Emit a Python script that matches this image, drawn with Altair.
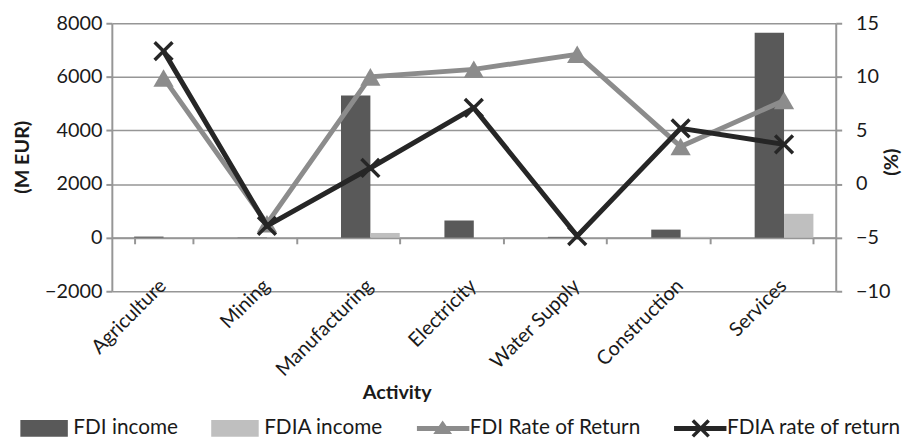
import altair as alt
import pandas as pd

categories = ["Agriculture", "Mining", "Manufacturing", "Electricity", "Water Supply", "Construction", "Services"]
fdi_income = [40, 10, 5300, 640, 30, 300, 7650]
fdia_income = [5, 5, 175, 15, 10, 30, 890]
fdi_rate = [9.9, -3.7, 10.0, 10.7, 12.1, 3.5, 7.8]
fdia_rate = [12.4, -3.9, 1.5, 7.1, -4.85, 5.2, 3.7]

series_names = ["FDI income", "FDIA income", "FDI Rate of Return", "FDIA rate of return"]
series_colors = ["#595959", "#bfbfbf", "#8c8c8c", "#262626"]

bar_df = pd.DataFrame({
    "category": categories * 2,
    "series": [series_names[0]] * 7 + [series_names[1]] * 7,
    "value": fdi_income + fdia_income,
})
rate_df = pd.DataFrame({
    "category": categories * 2,
    "series": [series_names[2]] * 7 + [series_names[3]] * 7,
    "rate": fdi_rate + fdia_rate,
})
legend_df = pd.DataFrame({"series": series_names})

FONT = "Lato"
GRAY = "#969696"

x_scale = alt.Scale(paddingInner=0.432, paddingOuter=0.216)

color_scale = alt.Scale(domain=series_names, range=series_colors)
shape_scale = alt.Scale(
    domain=series_names,
    range=[
        "M-1,-0.85H3.8V0.85H-1Z",
        "M-1,-0.85H3.8V0.85H-1Z",
        "M-1,-0.25H4.3V0.25H-1Z M1.6,-0.8L2.55,0.55L0.65,0.55Z",
        "M-1,-0.25H4.3V0.25H-1Z "
        "M1.024,-0.924L2.624,0.676L2.376,0.924L0.776,-0.676Z "
        "M2.376,-0.924L2.624,-0.676L1.024,0.924L0.776,0.676Z",
    ],
)

legend_def = alt.Legend(
    title=None,
    orient="none",
    direction="horizontal",
    legendX=-93,
    legendY=399,
    labelFont=FONT,
    labelFontSize=21,
    labelColor="#1a1a1a",
    labelLimit=400,
    symbolSize=400,
    symbolStrokeWidth=0,
    symbolOpacity=1,
    columnPadding=33,
    labelOffset=33,
)

x_axis = alt.Axis(title="Activity", orient="bottom", labelAngle=315, domain=True,
                  ticks=True, tickBand="extent", tickSize=6, grid=False, offset=-54,
                  labelPadding=32, labelOffset=-8, titleX=288, titleY=156, titleBaseline="middle")

bars = alt.Chart(bar_df).mark_bar().encode(
    x=alt.X("category:N", sort=categories, scale=x_scale, axis=x_axis),
    xOffset=alt.XOffset("series:N", sort=series_names[:2]),
    y=alt.Y("value:Q", scale=alt.Scale(domain=[-2000, 8000], nice=False),
            axis=alt.Axis(title="(M EUR)", orient="left", values=[-2000, 0, 2000, 4000, 6000, 8000],
                          grid=True, tickSize=6, labelPadding=4, titleX=-90, titleY=135,
                          titleBaseline="middle", titleAlign="center", format="d")),
    color=alt.Color("series:N", scale=color_scale, legend=legend_def),
)

right_axis = alt.Axis(title="(%)", orient="right", values=[-10, -5, 0, 5, 10, 15], grid=False,
                      tickSize=6, labelPadding=14, titleAngle=270, titleX=56, titleY=140,
                      titleBaseline="middle", titleAlign="center", format="d")
rate_scale = alt.Scale(domain=[-10, 15], nice=False)

line_fdi = alt.Chart(rate_df).transform_filter(
    alt.datum.series == series_names[2]
).mark_line(
    color=series_colors[2], strokeWidth=5,
    point=alt.OverlayMarkDef(shape="triangle-up", filled=True, size=420, color=series_colors[2], opacity=1),
).encode(
    x=alt.X("category:N", sort=categories, scale=x_scale, axis=x_axis),
    y=alt.Y("rate:Q", scale=rate_scale, axis=right_axis),
)

line_fdia = alt.Chart(rate_df).transform_filter(
    alt.datum.series == series_names[3]
).mark_line(
    color=series_colors[3], strokeWidth=5,
    point=alt.OverlayMarkDef(shape="M-1,-1L1,1M-1,1L1,-1", filled=False, size=324,
                             strokeWidth=3.5, color=series_colors[3], opacity=1),
).encode(
    x=alt.X("category:N", sort=categories, scale=x_scale, axis=x_axis),
    y=alt.Y("rate:Q", scale=rate_scale, axis=right_axis),
)

legend_layer = alt.Chart(legend_df).transform_filter("false").mark_point(filled=True, opacity=1).encode(
    color=alt.Color("series:N", scale=color_scale, legend=legend_def),
    shape=alt.Shape("series:N", scale=shape_scale, legend=legend_def),
)

inner = alt.layer(line_fdi, line_fdia, legend_layer)

chart = alt.layer(bars, inner).resolve_scale(y="independent").properties(
    width=732, height=271,
    padding={"left": 4, "top": 3, "right": 0, "bottom": 0},
).configure_view(stroke=None).configure_axis(
    labelFont=FONT, labelFontSize=20, labelColor="#1a1a1a",
    titleFont=FONT, titleFontSize=20, titleFontWeight="bold", titleColor="#1a1a1a",
    domainColor=GRAY, domainWidth=2, tickColor=GRAY, tickWidth=2,
    gridColor=GRAY, gridWidth=1.5,
)

chart.save("out.html", embed_options={"renderer": "svg", "actions": False})
